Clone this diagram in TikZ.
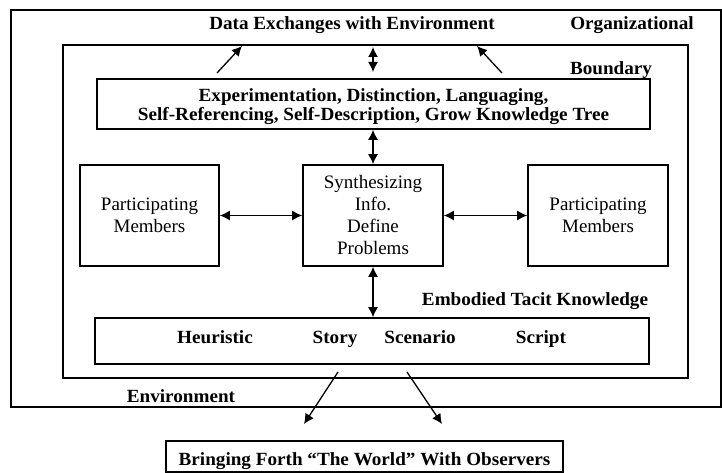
\documentclass[tikz,border=0pt]{standalone}
\usepackage{fontspec}
\setmainfont{Liberation Serif}[BoldFeatures={FakeStretch=1.03}]
\usetikzlibrary{arrows.meta}
\tikzset{
  box/.style={draw, line width=1.6pt, inner sep=0pt},
  bt/.style={font=\fontsize{18.6}{20}\selectfont\bfseries, inner sep=0pt, anchor=base},
  rt/.style={font=\fontsize{19}{22}\selectfont, align=center, inner sep=0pt},
  arr/.style={line width=1.3pt, -{Latex[length=10pt,width=10pt]}},
  darr/.style={line width=1.3pt, {Latex[length=10pt,width=10pt]}-{Latex[length=10pt,width=10pt]}}
}
\begin{document}
\begin{tikzpicture}[x=1pt,y=1pt]
\useasboundingbox (0,0) rectangle (722,-473);
% frames
\draw[line width=1.6pt] (11,-10) rectangle (721,-407);
\draw[line width=1.6pt] (63,-45) rectangle (688,-378);
% boxes
\node[box, minimum width=553pt, minimum height=50pt] (top) at (373.5,-104) {};
\node[box, minimum width=139pt, minimum height=101pt, rt] (left) at (149.5,-215.5) {Participating\\Members};
\node[box, minimum width=140pt, minimum height=101pt, rt] (mid) at (373,-215.5) {Synthesizing\\Info.\\Define\\Problems};
\node[box, minimum width=140pt, minimum height=101pt, rt] (right) at (598,-215.5) {Participating\\Members};
\node[box, minimum width=554pt, minimum height=46pt] (bot) at (372,-341) {};
\node[box, minimum width=397pt, minimum height=31pt] (world) at (364.5,-456.5) {};
% labels
\node[bt] (l1) at (373.5,-102) {Experimentation, Distinction, Languaging,};
\node[bt] (l2) at (373.5,-121) {Self-Referencing, Self-Description, Grow Knowledge Tree};
\node[bt] (wl) at (364.5,-465) {Bringing Forth “The World” With Observers};
\node[bt] (dex) at (352,-30) {Data Exchanges with Environment};
\node[bt] (org) at (632,-30) {Organizational};
\node[bt] (bnd) at (611,-75) {Boundary};
\node[bt] (etk) at (535,-305) {Embodied Tacit Knowledge};
\node[bt] (env) at (181,-402) {Environment};
\node[bt] (heu) at (215,-343) {Heuristic};
\node[bt] (sto) at (335,-343) {Story};
\node[bt] (sce) at (420,-343) {Scenario};
\node[bt] (scr) at (541,-343) {Script};
% free ends
\coordinate (a1s) at (217,-73);
\coordinate (a1e) at (242,-46);
\coordinate (a2s) at (373,-47);
\coordinate (a2e) at (373,-72);
\coordinate (a3s) at (502,-73);
\coordinate (a3e) at (477,-46);
\coordinate (b1s) at (338,-372);
\coordinate (b1e) at (304,-424);
\coordinate (b2s) at (407,-372);
\coordinate (b2e) at (442,-424);
% connectors
\draw[arr] (a1s) -- (a1e);
\draw[darr] (a2s) -- (a2e);
\draw[arr] (a3s) -- (a3e);
\draw[darr] (top.south -| mid.north) -- (mid.north);
\draw[darr] (left.east) -- (mid.west);
\draw[darr] (mid.east) -- (right.west);
\draw[darr] (mid.south) -- (bot.north -| mid.south);
\draw[arr] (b1s) -- (b1e);
\draw[arr] (b2s) -- (b2e);
\end{tikzpicture}
\end{document}
